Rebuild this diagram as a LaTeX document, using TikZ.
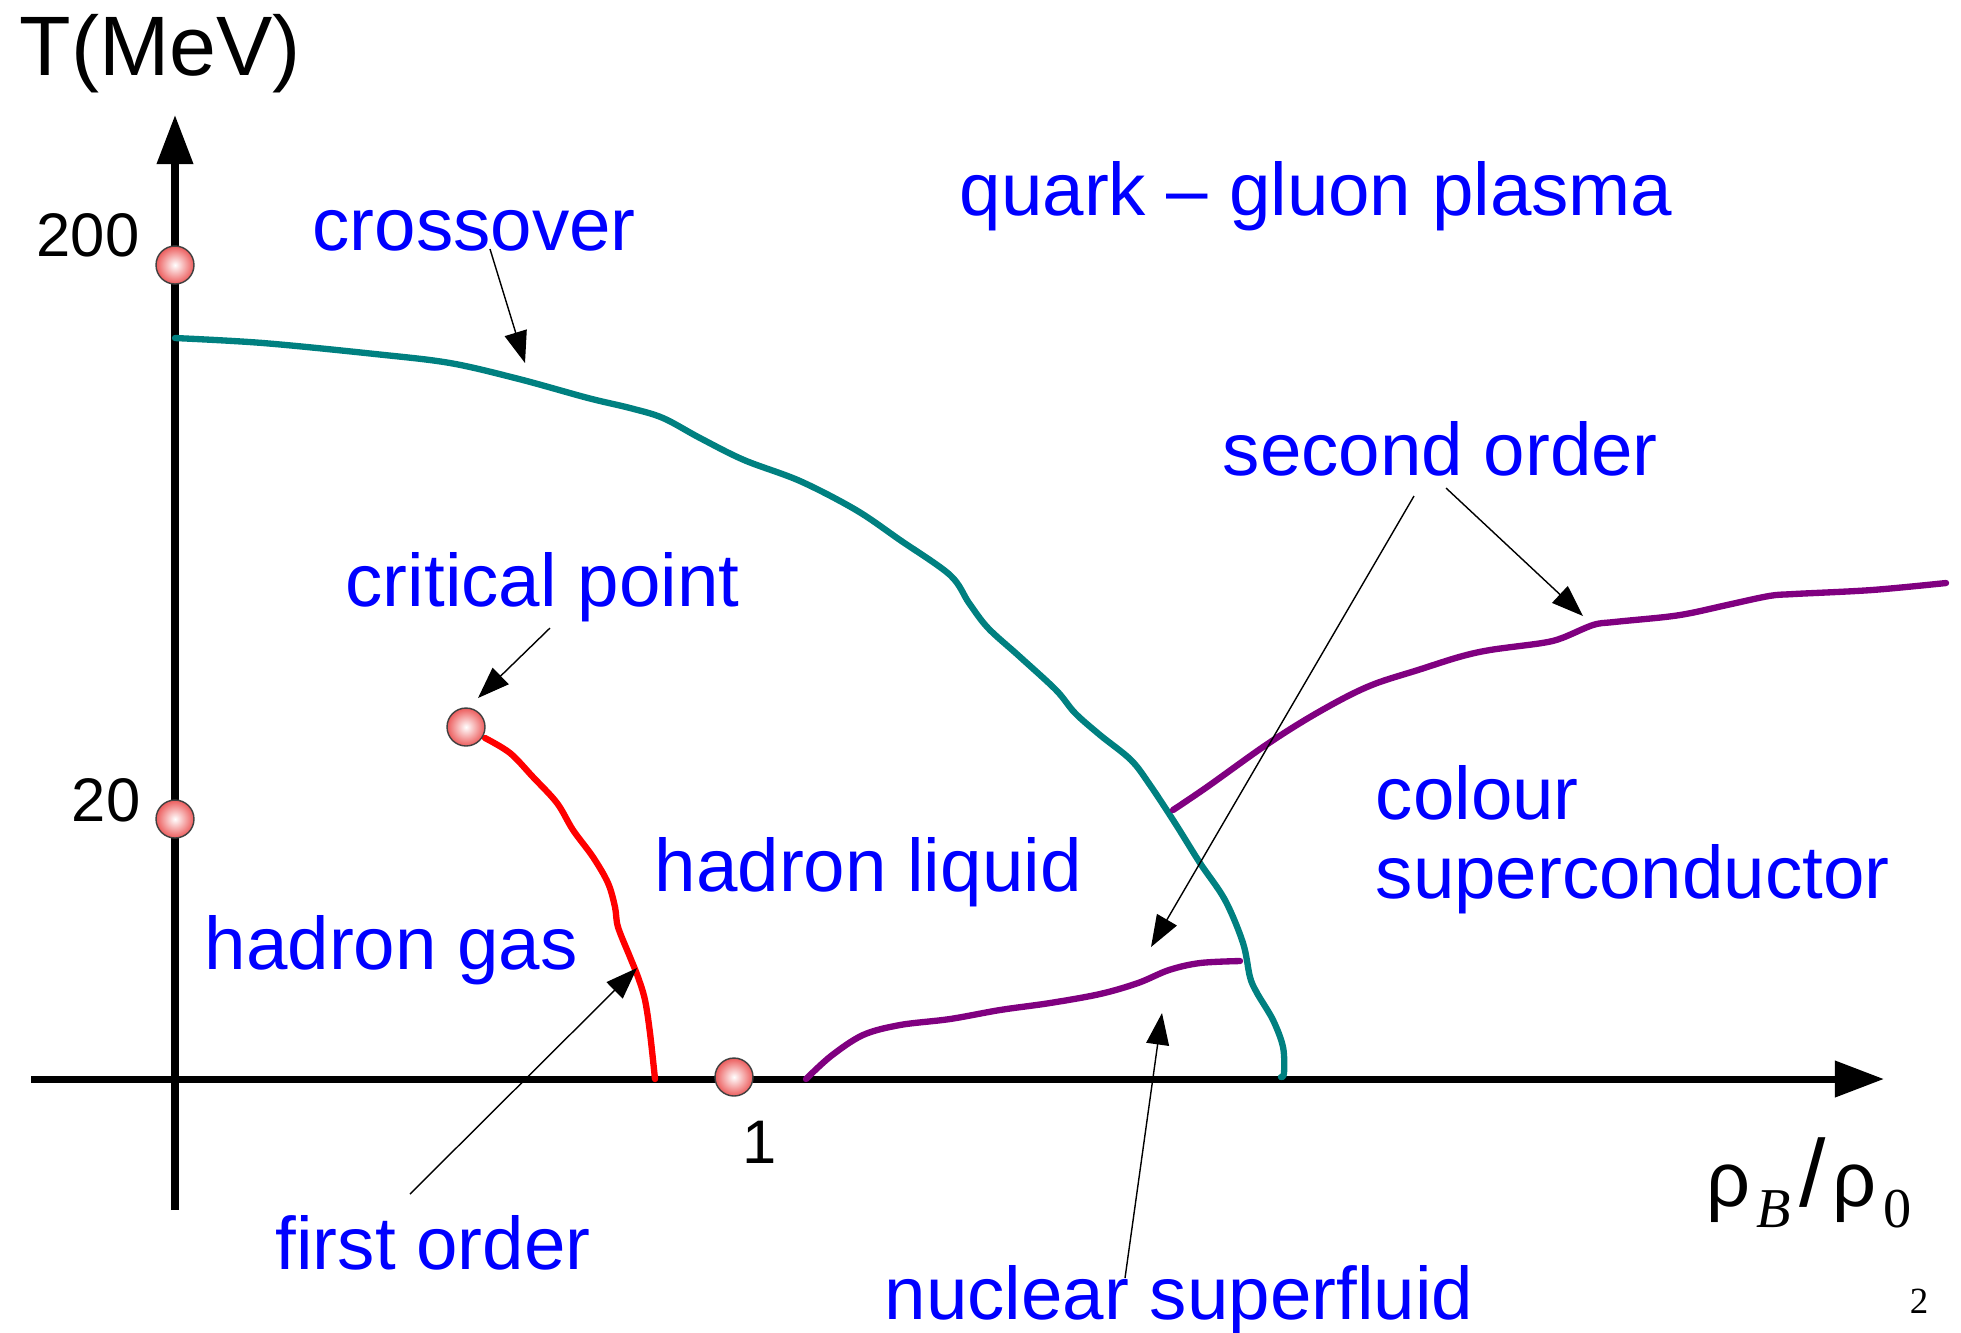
\documentclass[tikz,border=0pt]{standalone}
\usepackage{fontspec}
\setmainfont{Liberation Sans}
\newfontfamily\tmsfont{Liberation Serif}
\usetikzlibrary{arrows.meta}
\definecolor{figBl}{RGB}{0,0,255}
\definecolor{figTe}{RGB}{0,128,128}
\definecolor{figPu}{RGB}{128,0,128}
\definecolor{figRd}{RGB}{255,0,0}
\definecolor{figPt}{RGB}{236,92,92}

\begin{document}
\begin{tikzpicture}[x=0.01cm,y=-0.01cm,>={Triangle[length=9pt,width=6.5pt]},
  lbl/.style={figBl,font=\fontsize{21.2}{25}\selectfont,anchor=base west,inner sep=0pt},
  num/.style={font=\fontsize{17.5}{20}\selectfont,inner sep=0pt},
  axis/.style={line width=2pt,-{Triangle[length=14pt,width=10pt]}},
  phase/.style={line width=1.8pt,line cap=round},
  note/.style={->,line width=0.4pt},
  redpt/.style={circle,minimum size=10.8pt,inner sep=0pt,draw=black!75,line width=0.4pt,inner color=white,outer color=figPt}]
\useasboundingbox (0,0) rectangle (1961,1332);
% axes
\coordinate (ybot) at (175,1210); \coordinate (ytop) at (175,115);
\coordinate (xlft) at (31,1079); \coordinate (xrgt) at (1884,1079);
\draw[axis] (ybot)--(ytop);
\draw[axis] (xlft)--(xrgt);
\node[font=\fontsize{24}{28}\selectfont,anchor=base west,inner sep=0pt] (tlab) at (19,75) {T(MeV)};
\node[anchor=base west,inner sep=0pt] (rlab) at (1706,1206) {\fontsize{22}{24}\selectfont ρ\hspace{1.5pt}\raisebox{-6pt}{\tmsfont\itshape\fontsize{16}{18}\selectfont B}\hspace{2.5pt}{\fontsize{27}{27}\selectfont /}\hspace{2pt}ρ\hspace{2pt}\raisebox{-6pt}{\tmsfont\fontsize{16}{18}\selectfont 0}};
\node[num,anchor=base east] (t200) at (140,256) {200};
\node[num,anchor=base east] (t20) at (141,821) {20};
\node[num,anchor=base] (r1) at (760,1163) {1};
\node[font=\tmsfont\fontsize{10.5}{12}\selectfont,anchor=base,inner sep=0pt] (pg) at (1919,1313) {2};
% phase boundaries
\draw[phase,figTe] plot[smooth,tension=0.55] coordinates {(175,338) (263,343) (375,354) (450,363) (519,379) (588,398) (630,408) (663,418) (700,438) (744,460) (800,481) (856,510) (900,540) (950,575) (969,603) (988,628) (1019,656) (1056,690) (1075,713) (1100,735) (1131,760) (1150,785) (1175,823) (1200,863) (1225,900) (1243,943) (1250,977) (1257,993) (1273,1020) (1283,1047) (1284,1073) (1281,1077)};
\draw[phase,figRd] plot[smooth,tension=0.55] coordinates {(485,738) (510,753) (533,777) (557,803) (573,830) (593,857) (608,883) (615,907) (618,927) (630,957) (638,977) (645,1000) (650,1033) (655,1079)};
\draw[phase,figPu] plot[smooth,tension=0.55] coordinates {(806,1079) (831,1056) (863,1035) (900,1025) (950,1019) (1000,1010) (1050,1003) (1100,994) (1138,983) (1169,970) (1200,963) (1240,961)};
\draw[phase,figPu] plot[smooth,tension=0.55] coordinates {(1173,810) (1207,787) (1263,747) (1305,720) (1346,697) (1377,683) (1418,670) (1459,657) (1490,650) (1542,643) (1562,638) (1593,625) (1614,622) (1665,617) (1691,613) (1727,605) (1769,596) (1794,594) (1872,590) (1946,583)};
% points
\node[redpt] (p200) at (175,265) {};
\node[redpt] (p20) at (175,819) {};
\node[redpt] (cp) at (466,727) {};
\node[redpt] (p1) at (734,1077) {};
% regions and labels
\node[lbl] (qgp) at (959,215) {quark – gluon plasma};
\node[lbl] (xo) at (312,250) {crossover};
\node[lbl] (sec) at (1222,475) {second order};
\node[lbl] (crit) at (345,606) {critical point};
\node[lbl] (hliq) at (654,891) {hadron liquid};
\node[lbl] (hgas) at (204,969) {hadron gas};
\node[lbl] (csc1) at (1375,819) {colour};
\node[lbl] (csc2) at (1375,898) {superconductor};
\node[lbl] (fst) at (275,1269) {first order};
\node[lbl] (nsf) at (884,1319) {nuclear superfluid};
% pointers
\coordinate (xo-a) at (490,249); \coordinate (xo-b) at (525,363);
\coordinate (cp-a) at (550,628); \coordinate (cp-b) at (478,698);
\coordinate (sl-a) at (1414,496); \coordinate (sl-b) at (1151,947);
\coordinate (sr-a) at (1446,488); \coordinate (sr-b) at (1583,616);
\coordinate (fo-a) at (410,1194); \coordinate (fo-b) at (637,968);
\coordinate (ns-a) at (1125,1278); \coordinate (ns-b) at (1162,1013);
\draw[note] (xo-a)--(xo-b);
\draw[note] (cp-a)--(cp-b);
\draw[note] (sl-a)--(sl-b);
\draw[note] (sr-a)--(sr-b);
\draw[note] (fo-a)--(fo-b);
\draw[note] (ns-a)--(ns-b);
\end{tikzpicture}
\end{document}
